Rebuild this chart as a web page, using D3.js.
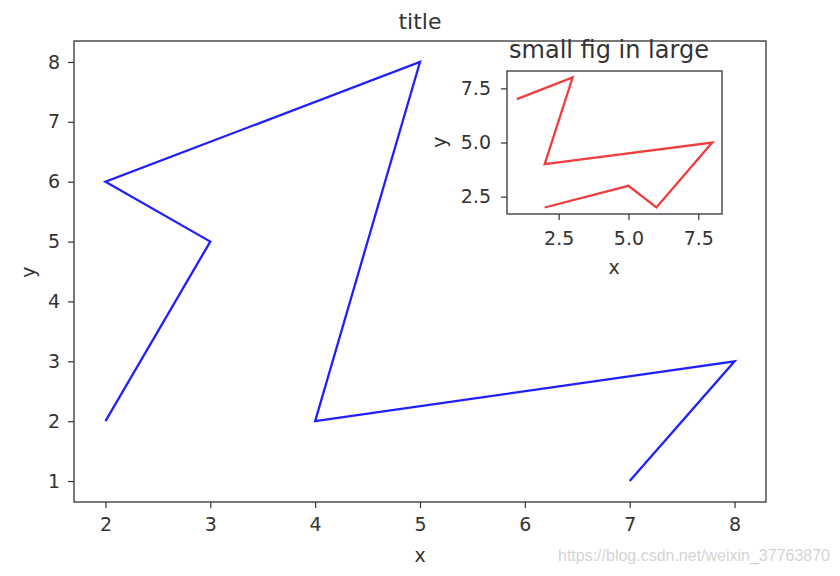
<!DOCTYPE html>
<html><head><meta charset="utf-8">
<script src="https://cdn.jsdelivr.net/npm/d3@7"></script>
<style>body{margin:0;background:#fff}svg{display:block;font-family:"DejaVu Sans",sans-serif}</style>
</head><body><svg id="c" width="840" height="576"></svg>
<script>
// main series
const mainX = [2, 3, 2, 5, 4, 8, 7];
const mainY = [2, 5, 6, 8, 2, 3, 1];
// inset series
const insetX = [1, 3, 2, 8, 6, 5, 2];
const insetY = [7, 8, 4, 5, 2, 3, 2];
const mainXTicks = [2, 3, 4, 5, 6, 7, 8];
const mainYTicks = [1, 2, 3, 4, 5, 6, 7, 8];
const insetXTicks = [2.5, 5.0, 7.5];
const insetYTicks = [2.5, 5.0, 7.5];

const svg = d3.select("#c");
svg.append("rect").attr("width",840).attr("height",576).attr("fill","#fff");

function pad(arr, f){const mn=d3.min(arr),mx=d3.max(arr),m=(mx-mn)*f;return [mn-m,mx+m];}

function drawAxes(box, xs, ys, xt, yt, color, fmt, fs, xpad, ypad){
  const x = d3.scaleLinear().domain(pad(xs,0.05)).range([box.l, box.r]);
  const y = d3.scaleLinear().domain(pad(ys,0.05)).range([box.b, box.t]);
  const g = svg.append("g");
  g.append("rect").attr("x",box.l).attr("y",box.t).attr("width",box.r-box.l).attr("height",box.b-box.t).attr("fill","#fff");
  const line = d3.line().x(d=>x(d[0])).y(d=>y(d[1]));
  g.append("path").datum(xs.map((v,i)=>[v,ys[i]])).attr("d",line).attr("fill","none").attr("stroke",color).attr("stroke-width",2.3).attr("stroke-linejoin","miter");
  const xa = g.append("g").attr("transform",`translate(0,${box.b})`).call(d3.axisBottom(x).tickValues(xt).tickFormat(fmt).tickSize(6).tickPadding(xpad));
  const ya = g.append("g").attr("transform",`translate(${box.l},0)`).call(d3.axisLeft(y).tickValues(yt).tickFormat(fmt).tickSize(6).tickPadding(ypad));
  [xa,ya].forEach(a=>{a.select(".domain").remove();a.selectAll("text").attr("font-size",fs).attr("fill","#333").style("font-family","DejaVu Sans");a.selectAll("line").attr("stroke","#333").attr("stroke-width",1.2);});
  g.append("rect").attr("x",box.l).attr("y",box.t).attr("width",box.r-box.l).attr("height",box.b-box.t).attr("fill","none").attr("stroke","#333").attr("stroke-width",1.3);
  return {x,y,g};
}

drawAxes({l:74,r:766,t:41,b:502}, mainX, mainY, mainXTicks, mainYTicks, "#1f1fff", d3.format("d"), 19, 10, 8);
svg.append("text").attr("x",420).attr("y",29).attr("text-anchor","middle").attr("font-size",22).attr("fill","#333").text("title");
svg.append("text").attr("x",420).attr("y",562).attr("text-anchor","middle").attr("font-size",19).attr("fill","#333").text("x");
svg.append("text").attr("transform","translate(35,272) rotate(-90)").attr("text-anchor","middle").attr("font-size",19).attr("fill","#333").text("y");

drawAxes({l:507,r:722,t:71,b:214}, insetX, insetY, insetXTicks, insetYTicks, "#f03c3c", d3.format(".1f"), 19, 12, 10);
svg.append("text").attr("x",609).attr("y",58).attr("text-anchor","middle").attr("font-size",24).attr("fill","#333").text("small fig in large");
svg.append("text").attr("x",614).attr("y",274).attr("text-anchor","middle").attr("font-size",19).attr("fill","#333").text("x");
svg.append("text").attr("transform","translate(446,142) rotate(-90)").attr("text-anchor","middle").attr("font-size",19).attr("fill","#333").text("y");

svg.append("text").attr("x",558).attr("y",561).attr("textLength",272).attr("lengthAdjust","spacingAndGlyphs").attr("font-size",16).attr("fill","#d4d4d4").style("font-family","Liberation Sans, sans-serif").text("https://blog.csdn.net/weixin_37763870");
</script></body></html>
